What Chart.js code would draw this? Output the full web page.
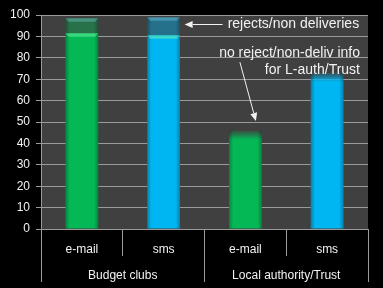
<!DOCTYPE html>
<html>
<head>
<meta charset="utf-8">
<script src="https://cdn.jsdelivr.net/npm/chart.js@4"></script>
<style>
  html, body { margin: 0; padding: 0; background: #000; }
  #wrap { width: 383px; height: 288px; }
</style>
</head>
<body>
<div id="wrap"><canvas id="chart"></canvas></div>
<script>
// data
const channels = ["e-mail", "sms", "e-mail", "sms"];
const groups = ["Budget clubs", "Local authority/Trust"];
const delivered = [91.5, 90.5, 46, 73];
const rejects = [7, 8.5, null, null];

const noteRejects = "rejects/non deliveries";
const noteNoInfo = ["no reject/non-deliv info", "for L-auth/Trust"];

const FONT = '"Liberation Sans", Arial, sans-serif';
const TEXT = "#f2f2f2";
const LINE = "#9a9a9a";
const rgb = ["4,184,86", "0,182,242", "4,184,86", "0,182,242"];

function solidOrFade(c) {
  const col = "rgb(" + rgb[c.dataIndex] + ")";
  if (rejects[c.dataIndex] != null || c.raw == null) return col;
  const ys = c.chart.scales.y;
  if (!ys) return col;
  // L-auth bars have a soft, faded top
  const top = ys.getPixelForValue(c.raw);
  const g = c.chart.ctx.createLinearGradient(0, top, 0, top + 9);
  g.addColorStop(0, "rgba(" + rgb[c.dataIndex] + ",0.1)");
  g.addColorStop(1, col);
  return g;
}

const plotBg = {
  id: "plotBg",
  beforeDraw(chart) {
    const { ctx, chartArea: a } = chart;
    ctx.save();
    ctx.fillStyle = "#404040";
    ctx.fillRect(a.left, a.top, a.width, a.height);
    ctx.restore();
  }
};

// little glassy bevel on the bars
const glass = {
  id: "glass",
  afterDatasetsDraw(chart) {
    const ctx = chart.ctx;
    ctx.save();
    chart.data.datasets.forEach((ds, di) => {
      chart.getDatasetMeta(di).data.forEach((bar, i) => {
        if (ds.data[i] == null) return;
        const { x, y, base, width } = bar.getProps(["x", "y", "base", "width"], true);
        const l = x - width / 2, r = x + width / 2;
        const g = ctx.createLinearGradient(l, 0, r, 0);
        g.addColorStop(0, "rgba(0,0,0,0.28)");
        g.addColorStop(0.13, "rgba(0,0,0,0)");
        g.addColorStop(0.87, "rgba(0,0,0,0)");
        g.addColorStop(1, "rgba(0,0,0,0.28)");
        ctx.fillStyle = g;
        ctx.fillRect(l, y, width, base - y);
        if (rejects[i] == null) return;
        ctx.fillStyle = di === 0 ? "rgba(120,255,170,0.45)" : "rgba(150,230,255,0.3)";
        ctx.beginPath();
        ctx.moveTo(l, y);
        ctx.lineTo(r, y);
        ctx.lineTo(r - 3, y + 3.5);
        ctx.lineTo(l + 3, y + 3.5);
        ctx.closePath();
        ctx.fill();
      });
    });
    ctx.restore();
  }
};

function arrow(ctx, x1, y1, x2, y2) {
  const a = Math.atan2(y2 - y1, x2 - x1);
  const hl = 8, hw = 3.5;
  const bx = x2 - hl * Math.cos(a), by = y2 - hl * Math.sin(a);
  ctx.beginPath();
  ctx.moveTo(x1, y1);
  ctx.lineTo(bx, by);
  ctx.stroke();
  ctx.beginPath();
  ctx.moveTo(x2, y2);
  ctx.lineTo(bx + hw * Math.sin(a), by - hw * Math.cos(a));
  ctx.lineTo(bx - hw * Math.sin(a), by + hw * Math.cos(a));
  ctx.closePath();
  ctx.fill();
}

const notes = {
  id: "notes",
  afterDraw(chart) {
    const { ctx, chartArea, scales: { x, y } } = chart;
    ctx.save();
    ctx.fillStyle = TEXT;
    ctx.strokeStyle = TEXT;
    ctx.lineWidth = 1;
    ctx.font = "14px " + FONT;
    ctx.textBaseline = "middle";

    const ax = x.getPixelForValue(1) + 21, ay = Math.round(y.getPixelForValue(95.8)) + 0.5;
    arrow(ctx, ax + 38, ay, ax, ay);
    ctx.textAlign = "left";
    ctx.fillText(noteRejects, ax + 43, ay);

    const rx = chartArea.right - 8;
    ctx.textAlign = "right";
    ctx.fillText(noteNoInfo[0], rx, y.getPixelForValue(82));
    ctx.fillText(noteNoInfo[1], rx, y.getPixelForValue(74));

    const tx = x.getPixelForValue(2) + 10.5;
    arrow(ctx, tx - 16, y.getPixelForValue(78), tx, y.getPixelForValue(50.5));
    ctx.restore();
  }
};

new Chart(document.getElementById("chart"), {
  type: "bar",
  data: {
    labels: channels,
    datasets: [
      {
        label: "delivered",
        data: delivered,
        backgroundColor: solidOrFade,
        barPercentage: 0.4,
        categoryPercentage: 1
      },
      {
        label: "rejects",
        data: rejects,
        backgroundColor: rgb.map(c => "rgba(" + c + ",0.42)"),
        barPercentage: 0.4,
        categoryPercentage: 1
      }
    ]
  },
  options: {
    responsive: true,
    maintainAspectRatio: false,
    animation: false,
    layout: { padding: { left: 0, right: 15, top: 15, bottom: 6 } },
    plugins: { legend: { display: false }, tooltip: { enabled: false } },
    scales: {
      x: {
        stacked: true,
        offset: true,
        grid: { offset: true, drawOnChartArea: false, tickLength: 27, color: LINE },
        border: { color: LINE },
        ticks: { color: TEXT, font: { family: FONT, size: 12 }, padding: -14, maxRotation: 0, autoSkip: false },
        afterFit: s => { s.height = 27; }
      },
      x2: {
        type: "category",
        labels: groups,
        position: "bottom",
        offset: true,
        grid: { offset: true, drawOnChartArea: false, tickLength: 26, color: LINE },
        border: { display: false },
        ticks: { color: TEXT, font: { family: FONT, size: 12 }, padding: -14, maxRotation: 0, autoSkip: false },
        afterFit: s => { s.height = 26; }
      },
      y: {
        stacked: true,
        min: 0,
        max: 100,
        ticks: { stepSize: 10, color: TEXT, font: { family: FONT, size: 12 }, padding: 6 },
        grid: { color: LINE, tickLength: 5 },
        border: { color: LINE },
        afterFit: s => { s.width = 41; }
      }
    }
  },
  plugins: [plotBg, glass, notes]
});
</script>
</body>
</html>
